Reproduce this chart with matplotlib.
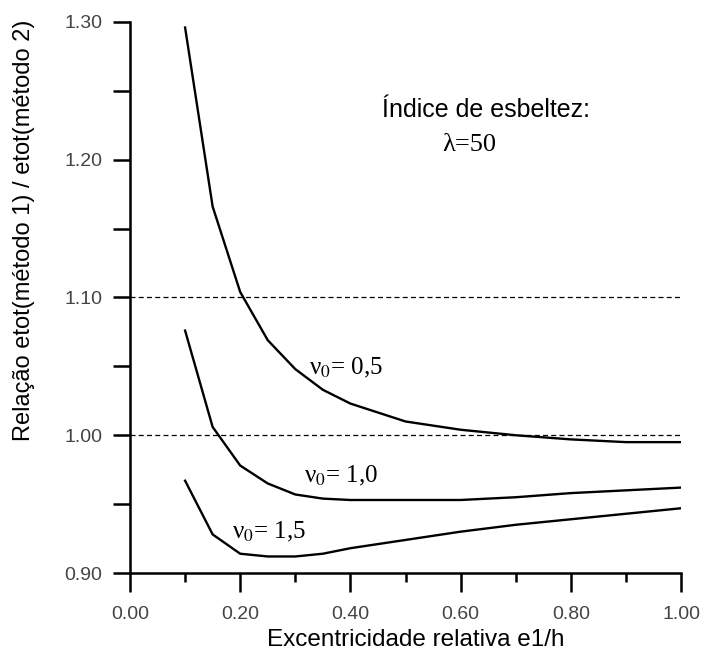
import matplotlib
matplotlib.use('Agg')
import matplotlib.pyplot as plt
from matplotlib.ticker import MultipleLocator, FormatStrFormatter

# excentricidade relativa e1/h
e1h = [0.10, 0.15, 0.20, 0.25, 0.30, 0.35, 0.40, 0.50, 0.60, 0.70, 0.80, 0.90, 1.00]

# relacao etot(metodo 1) / etot(metodo 2), lambda = 50
rel_v05 = [1.296, 1.166, 1.104, 1.069, 1.048, 1.033, 1.023, 1.010, 1.004, 1.000, 0.997, 0.995, 0.995]
rel_v10 = [1.076, 1.006, 0.978, 0.965, 0.957, 0.954, 0.953, 0.953, 0.953, 0.955, 0.958, 0.960, 0.962]
rel_v15 = [0.967, 0.928, 0.914, 0.912, 0.912, 0.914, 0.918, 0.924, 0.930, 0.935, 0.939, 0.943, 0.947]

ref_lines = [1.10, 1.00]

sans = 'Liberation Sans'
serif = 'Liberation Serif'
plt.rcParams['font.family'] = [sans, 'DejaVu Sans']

fig = plt.figure(figsize=(7.03, 6.5), dpi=100)
ax = fig.add_axes([130/703, 1 - 573/650, 551/703, 551/650])

for yr in ref_lines:
    ax.plot([0.0, 1.0], [yr, yr], color='black', lw=0.9, ls=(0, (4, 2.6)))

for ys in (rel_v05, rel_v10, rel_v15):
    ax.plot(e1h, ys, color='black', lw=1.7, solid_joinstyle='miter')

ax.set_xlim(0.0, 1.0)
ax.set_ylim(0.90, 1.30)
ax.spines['top'].set_visible(False)
ax.spines['right'].set_visible(False)
for s in ('left', 'bottom'):
    ax.spines[s].set_linewidth(1.8)

ax.xaxis.set_major_locator(MultipleLocator(0.2))
ax.xaxis.set_minor_locator(MultipleLocator(0.1))
ax.yaxis.set_major_locator(MultipleLocator(0.1))
ax.yaxis.set_minor_locator(MultipleLocator(0.05))
ax.xaxis.set_major_formatter(FormatStrFormatter('%.2f'))
ax.yaxis.set_major_formatter(FormatStrFormatter('%.2f'))
ax.tick_params(which='both', direction='out', width=1.8, labelsize=14, labelcolor='#444444')
ax.tick_params(axis='y', which='both', length=12, pad=8)
ax.tick_params(axis='x', which='major', length=14, pad=10)
ax.tick_params(axis='x', which='minor', length=6.5)

fig.text(416/703, 1 - 640/650, 'Excentricidade relativa e1/h', fontsize=17.5,
         ha='center', va='center')
fig.text(24/703, 1 - 230/650, 'Relação etot(método 1) / etot(método 2)', fontsize=17,
         rotation=90, ha='center', va='center')

ax.text(0.646, 1.236, 'Índice de esbeltez:', fontsize=18, ha='center', va='center')
ax.text(0.567, 1.2105, 'λ=50', fontsize=19, family=serif, ha='left', va='center')
ax.text(0.325, 1.040, 'ν$_0$= 0,5', fontsize=18, family=serif, ha='left', va='bottom',
        math_fontfamily='stix')
ax.text(0.315, 0.962, 'ν$_0$= 1,0', fontsize=18, family=serif, ha='left', va='bottom',
        math_fontfamily='stix')
ax.text(0.185, 0.921, 'ν$_0$= 1,5', fontsize=18, family=serif, ha='left', va='bottom',
        math_fontfamily='stix')

fig.savefig('out.png', dpi=100)
